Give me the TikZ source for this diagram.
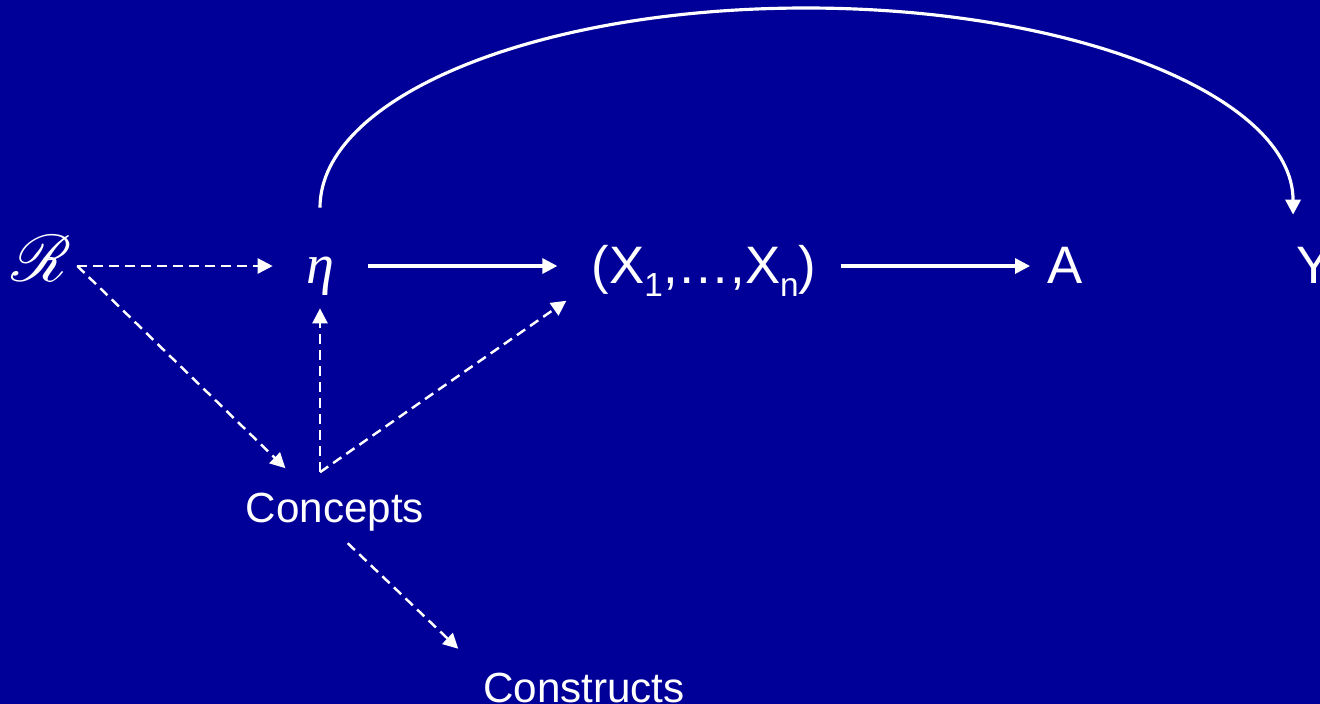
\documentclass[tikz,border=0pt]{standalone}
\usepackage{fontspec}
\usepackage{mathrsfs}
\setmainfont{Liberation Sans}
\newfontfamily\etafont{Liberation Serif}
\usetikzlibrary{arrows.meta,calc}
\definecolor{bgblue}{RGB}{0,0,153}
\newcommand{\lowsub}[1]{\raisebox{-7.4pt}{\fontsize{19}{19}\selectfont #1}}

\begin{document}
\begin{tikzpicture}[x=0.02cm, y=-0.02cm, every node/.style={text=white,inner sep=0pt}, row/.style={anchor=base,text height=0.68cm,text depth=0pt,font=\fontsize{30}{36}\selectfont}, lbl/.style={anchor=base,font=\fontsize{24}{29}\selectfont}, solidarr/.style={draw=white,line width=1.8pt,-{Triangle[length=0.3cm,width=0.3cm]}}, dasharr/.style={draw=white,line width=1.4pt,dash pattern=on 0.2cm off 0.12cm,-{Triangle[length=0.3cm,width=0.3cm]}}]
\useasboundingbox (0,0) rectangle (1320,704);
\fill[bgblue] (0,0) rectangle (1320,704);
\clip (0,0) rectangle (1320,704);
% top row
\node[row] (R) at (41,281) {\resizebox{1.2cm}{!}{$\mathscr{R}$}};
\node[row] (eta) at (320,283) {\fontsize{32}{36}\selectfont\etafont\itshape η};
\node[row] (X) at (704,283) {(X\lowsub{1},…,X\lowsub{n})};
\node[row] (A) at (1065,283) {A};
\node[row] (Y) at (1314,283) {Y};
% lower labels
\node[lbl] (C) at (335,522) {Concepts};
\node[lbl] (K) at (584,702) {Constructs};
\coordinate (Rout) at ([xshift=0.12cm,yshift=-0.04cm]R.east);
\coordinate (Cout) at ([yshift=0.4cm]C.north -| eta);
% connectors
\draw[dasharr,shorten >=0.66cm] (Rout) -- (Rout -| eta.west);
\draw[solidarr,shorten <=0.68cm,shorten >=0.68cm] (eta.east) -- (X.west);
\draw[solidarr,shorten <=0.48cm,shorten >=0.34cm] (X.east) -- (A.west);
\draw[dasharr,shorten >=0.69cm] (Rout) -- (C.142);
\draw[dasharr,shorten >=0.5cm] (Cout) -- (eta.south);
\draw[dasharr,shorten >=0.61cm] (Cout) -- (X.south west);
\draw[dasharr,shorten <=0.35cm,shorten >=0.68cm] (C.south) -- (K.north west);
\draw[solidarr] ([yshift=0.82cm]eta.north) .. controls +(0,-111) and +(-269,0) .. (806,8) .. controls +(269,0) and +(0,-118) .. ([shift={(-0.06cm,0.68cm)}]Y.north west);
\end{tikzpicture}
\end{document}
